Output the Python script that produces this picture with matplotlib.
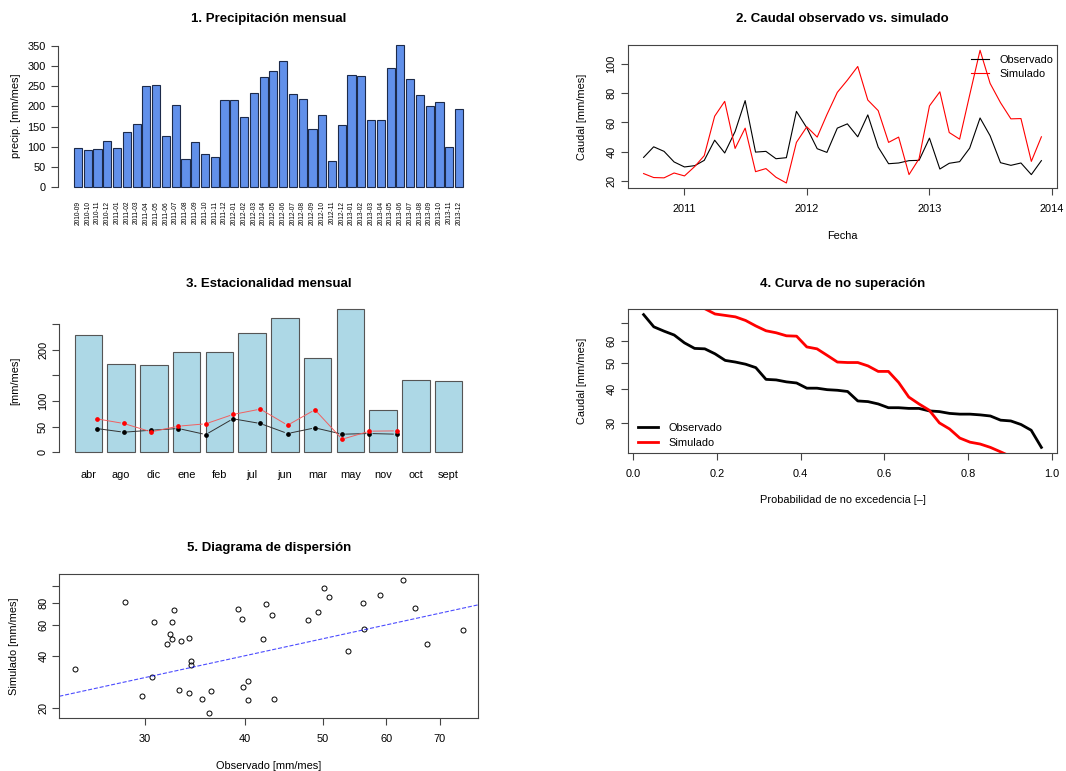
import numpy as np
import pandas as pd
import matplotlib
matplotlib.use('Agg')
import matplotlib.pyplot as plt
import matplotlib.dates as mdates
from matplotlib.ticker import NullLocator

plt.rcParams['font.family'] = ['Liberation Sans', 'DejaVu Sans']

# datos mensuales (sep 2010 - dic 2013)
meses = ['2010-09', '2010-10', '2010-11', '2010-12',
         '2011-01', '2011-02', '2011-03', '2011-04', '2011-05', '2011-06',
         '2011-07', '2011-08', '2011-09', '2011-10', '2011-11', '2011-12',
         '2012-01', '2012-02', '2012-03', '2012-04', '2012-05', '2012-06',
         '2012-07', '2012-08', '2012-09', '2012-10', '2012-11', '2012-12',
         '2013-01', '2013-02', '2013-03', '2013-04', '2013-05', '2013-06',
         '2013-07', '2013-08', '2013-09', '2013-10', '2013-11', '2013-12']
precip = [97, 91, 93, 114, 96, 136, 156, 251, 254, 126, 203, 69, 111, 82, 74,
          215, 215, 173, 232, 273, 287, 312, 230, 218, 145, 178, 65, 154,
          277, 275, 166, 165, 296, 352, 267, 228, 201, 211, 99, 193]
obs = [36.2, 43.4, 40.3, 33.1, 29.7, 30.6, 34.2, 47.9, 39.2, 53.8, 74.8, 39.8,
       40.3, 35.3, 36.0, 67.5, 56.3, 42.1, 39.6, 56.1, 59.0, 50.2, 65.1, 43.2,
       31.9, 32.4, 34.0, 34.2, 49.3, 28.3, 32.2, 33.3, 42.5, 63.0, 50.9, 32.6,
       30.8, 32.4, 24.5, 34.0]
sim = [25.2, 22.5, 22.3, 25.6, 23.6, 30.1, 37.4, 64.2, 74.3, 42.3, 56.1, 26.5,
       28.6, 22.7, 18.8, 46.4, 57.0, 50.0, 65.3, 80.4, 88.7, 98.0, 75.2, 68.0,
       46.4, 50.0, 24.5, 35.3, 71.2, 80.8, 53.1, 48.6, 78.6, 109.0, 86.5, 73.4,
       62.4, 62.6, 33.5, 50.2]

# estacionalidad
est_meses = ['abr', 'ago', 'dic', 'ene', 'feb', 'jul', 'jun', 'mar', 'may',
             'nov', 'oct', 'sept']
est_precip = [229, 172, 170, 196, 195, 233, 263, 185, 280, 82, 141, 139]
est_obs = [46.4, 39.2, 43.1, 46.4, 34.6, 65.4, 56.2, 36.6, 47.7, 35.3, 36.6, 35.3]
est_sim = [65.4, 56.2, 39.9, 51.0, 55.6, 73.9, 84.3, 52.9, 83.0, 25.5, 41.2, 41.8]

W, H = 1066, 771
fig = plt.figure(figsize=(W / 100, H / 100), dpi=100)

FS = 7.9
GREY = '#444444'


def add_ax(l, t, r, b):
    return fig.add_axes([l / W, 1 - b / H, (r - l) / W, (b - t) / H])


def ftext(x, y, s, **kw):
    fig.text(x / W, 1 - y / H, s, ha='center', va='center', **kw)


def rlim(lo, hi):
    d = (hi - lo) * 0.04
    return lo - d, hi + d


def rlim_log(lo, hi):
    a, b = rlim(np.log(lo), np.log(hi))
    return np.exp(a), np.exp(b)


def style(ax, box=True):
    for s in ax.spines.values():
        s.set_color(GREY)
        s.set_linewidth(0.8)
        s.set_visible(box)
    ax.tick_params(direction='out', length=5, width=0.8, color=GREY,
                   labelsize=FS, pad=3)
    ax.tick_params(axis='x', pad=6.5)


def rot_y(ax):
    for lbl in ax.get_yticklabels():
        lbl.set_rotation(90)
        lbl.set_va('center')


def type_b(ax, x, y, color, gap=3.5):
    # segmentos con hueco alrededor de los puntos (como type='b' en R)
    pts = ax.transData.transform(np.column_stack([x, y]))
    inv = ax.transData.inverted()
    for p, q in zip(pts[:-1], pts[1:]):
        d = q - p
        L = np.hypot(*d)
        if L <= 2 * gap:
            continue
        u = d / L
        a, b = inv.transform([p + u * gap, q - u * gap])
        ax.plot([a[0], b[0]], [a[1], b[1]], color=color, lw=0.7)


# 1. precipitacion mensual
ax1 = add_ax(58.4, 39.5, 478.6, 192.6)
style(ax1, box=False)
x1 = 0.7 + 1.2 * np.arange(len(precip))
ax1.bar(x1, precip, width=1, color='#6190EA', edgecolor='#1c2a4a', linewidth=0.8)
ax1.set_xlim(rlim(0.2, x1[-1] + 0.5))
ax1.set_ylim(rlim(0, max(precip)))
ax1.spines['left'].set_visible(True)
ax1.spines['left'].set_bounds(0, 350)
ax1.set_yticks(np.arange(0, 351, 50))
ax1.set_xticks(x1)
ax1.set_xticklabels(meses, rotation=90, fontsize=4.8)
ax1.tick_params(axis='x', length=0, pad=6)
ax1.tick_params(axis='y', pad=4)
ftext(268.5, 19, '1. Precipitación mensual', fontsize=9.5, fontweight='bold')
ftext(15.7, 116, 'precip. [mm/mes]', fontsize=FS, rotation=90)

# 2. caudal observado vs simulado
ax2 = add_ax(627.7, 45, 1057.3, 188.3)
style(ax2)
fechas = mdates.date2num(pd.to_datetime(meses))
ax2.plot(fechas, obs, color='black', lw=0.8, label='Observado')
ax2.plot(fechas, sim, color='red', lw=0.8, label='Simulado')
ax2.set_xlim(rlim(fechas[0], fechas[-1]))
ax2.set_ylim(rlim(min(obs + sim), max(obs + sim)))
anios = [2011, 2012, 2013, 2014]
ax2.set_xticks(mdates.date2num(pd.to_datetime([f'{a}-01-01' for a in anios])))
ax2.set_xticklabels([str(a) for a in anios])
ax2.set_yticks([20, 40, 60, 80, 100])
rot_y(ax2)
ax2.legend(loc='upper right', frameon=False, fontsize=FS, handlelength=1.6,
           handletextpad=1.0, borderaxespad=0.5, labelspacing=0.4,
           borderpad=0.3, bbox_to_anchor=(1 + 5 / 429.6, 1 - 1 / 143.3))
ftext(842.5, 19, '2. Caudal observado vs. simulado', fontsize=9.5, fontweight='bold')
ftext(581.7, 116.6, 'Caudal [mm/mes]', fontsize=FS, rotation=90)
ftext(842.5, 236, 'Fecha', fontsize=FS)

# 3. estacionalidad mensual
ax3 = add_ax(59.2, 303.2, 477.8, 458.0)
style(ax3, box=False)
x3 = 0.7 + 1.2 * np.arange(len(est_meses))
ax3.bar(x3, est_precip, width=1, color='#ADD8E6', edgecolor='#555555', linewidth=0.8)
ax3.set_xlim(rlim(0.2, x3[-1] + 0.5))
ax3.set_ylim(rlim(0, max(est_precip)))
pos = np.arange(1, len(est_meses) + 1)
type_b(ax3, pos, est_obs, '#333333')
type_b(ax3, pos, est_sim, '#f06060')
ax3.plot(pos, est_obs, 'o', ms=2.4, color='black')
ax3.plot(pos, est_sim, 'o', ms=2.4, color='red')
ax3.spines['left'].set_visible(True)
ax3.spines['left'].set_bounds(0, 250)
ax3.set_yticks(np.arange(0, 251, 50))
ax3.set_yticklabels(['0', '50', '100', '', '200', ''])
rot_y(ax3)
ax3.set_xticks(x3)
ax3.set_xticklabels(est_meses)
ax3.tick_params(axis='x', length=0, pad=9)
ftext(268.5, 284, '3. Estacionalidad mensual', fontsize=9.5, fontweight='bold')
ftext(15, 381, '[mm/mes]', fontsize=FS, rotation=90)

# 4. curva de no superacion
ax4 = add_ax(627.7, 309.3, 1057.3, 452.7)
style(ax4)
n = len(obs)
prob = np.arange(1, n + 1) / (n + 1)
ax4.plot(prob, sorted(obs, reverse=True), color='black', lw=2, label='Observado')
ax4.plot(prob, sorted(sim, reverse=True), color='red', lw=2, label='Simulado')
ax4.set_yscale('log')
ax4.set_xlim(rlim(prob[0], prob[-1]))
ax4.set_ylim(rlim_log(min(obs), max(obs)))
ax4.set_xticks(np.arange(0, 1.01, 0.2))
ax4.set_xticklabels(['0.0', '0.2', '0.4', '0.6', '0.8', '1.0'])
ax4.yaxis.set_minor_locator(NullLocator())
ax4.set_yticks([30, 40, 50, 60, 70])
ax4.set_yticklabels(['30', '40', '50', '60', ''])
rot_y(ax4)
ax4.legend(loc='lower left', frameon=False, fontsize=FS, handlelength=1.8,
           handletextpad=0.9, borderaxespad=0.5, labelspacing=0.45,
           borderpad=0.3, bbox_to_anchor=(2 / 429.6, -4 / 143.4))
ftext(842.5, 284, '4. Curva de no superación', fontsize=9.5, fontweight='bold')
ftext(581.7, 381, 'Caudal [mm/mes]', fontsize=FS, rotation=90)
ftext(842.5, 500, 'Probabilidad de no excedencia [–]', fontsize=FS)

# 5. diagrama de dispersion
ax5 = add_ax(59.3, 574.3, 478.3, 718.3)
style(ax5)
ax5.plot(obs, sim, 'o', mfc='none', mec='black', ms=3.6, mew=0.7)
ax5.set_xscale('log')
ax5.set_yscale('log')
ax5.set_xlim(rlim_log(min(obs), max(obs)))
ax5.set_ylim(rlim_log(min(sim), max(sim)))
ax5.axline((30, 30), (70, 70), color='blue', ls='--', lw=0.8, alpha=0.7)
ax5.xaxis.set_minor_locator(NullLocator())
ax5.yaxis.set_minor_locator(NullLocator())
ax5.set_xticks([30, 40, 50, 60, 70])
ax5.set_xticklabels(['30', '40', '50', '60', '70'])
ax5.set_yticks([20, 40, 60, 80, 100])
ax5.set_yticklabels(['20', '40', '60', '80', ''])
rot_y(ax5)
ftext(268.8, 548, '5. Diagrama de dispersión', fontsize=9.5, fontweight='bold')
ftext(14, 646, 'Simulado [mm/mes]', fontsize=FS, rotation=90)
ftext(268.8, 766, 'Observado [mm/mes]', fontsize=FS)

fig.savefig('out.png', dpi=100)
